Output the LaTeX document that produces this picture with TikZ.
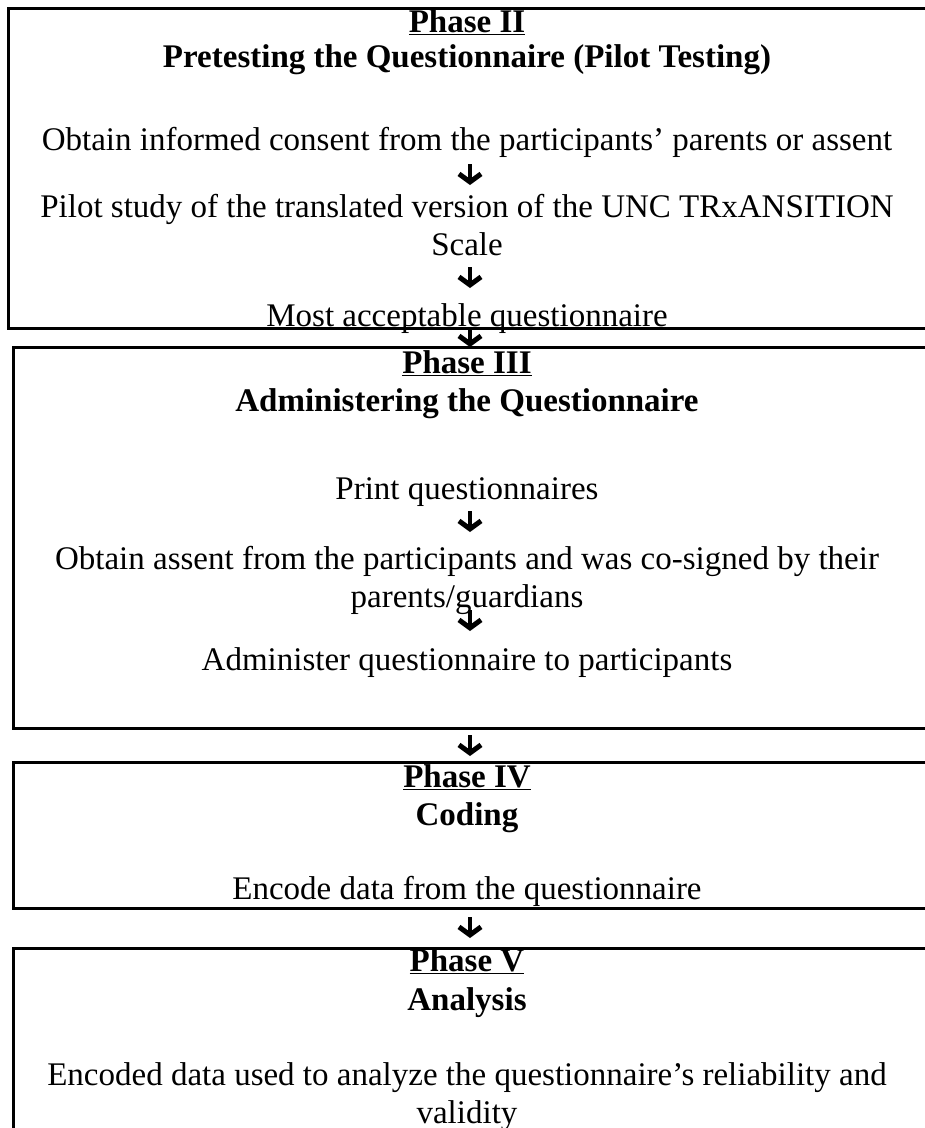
\documentclass[tikz,border=0pt]{standalone}
\usepackage{fontspec}
\setmainfont{Liberation Serif}
\usetikzlibrary{arrows.meta}
\tikzset{
  frame/.style={draw=black, line width=3pt, fill=none},
  txt/.style={anchor=base, inner sep=0pt, align=center, font=\fontsize{33}{38}\selectfont},
  head/.style={anchor=base, inner sep=0pt, align=center, font=\fontsize{33}{38}\selectfont\bfseries},
  bigarrow/.style={line width=4.5pt, -{Straight Barb[length=8pt,width=22pt,line width=5pt]}}
}
\begin{document}
\begin{tikzpicture}[x=1pt,y=-1pt]
\useasboundingbox (0,0) rectangle (925,1128);
\fill[white] (0,0) rectangle (925,1128);
\clip (0,0) rectangle (925,1128);
% boxes
\draw[frame] (8,8) rectangle (960,328);
\draw[frame] (13,347) rectangle (960,728);
\draw[frame] (13,762) rectangle (960,908);
\draw[frame] (13,948) rectangle (960,1160);
% Phase II
\node[head] (p2) at (467,32) {\underline{Phase II}};
\node[head] (p2t) at (467,67) {Pretesting the Questionnaire (Pilot Testing)};
\node[txt] (s21) at (467,150) {Obtain informed consent from the participants’ parents or assent};
\node[txt] (s22) at (467,255) {Pilot study of the translated version of the UNC TRxANSITION\\Scale};
\node[txt] (s23) at (467,326) {Most acceptable questionnaire};
% Phase III
\node[head] (p3) at (467,373) {\underline{Phase III}};
\node[head] (p3t) at (467,411) {Administering the Questionnaire};
\node[txt] (s31) at (467,499) {Print questionnaires};
\node[txt] (s32) at (467,607) {Obtain assent from the participants and was co-signed by their\\parents/guardians};
\node[txt] (s33) at (467,670) {Administer questionnaire to participants};
% Phase IV
\node[head] (p4) at (467,787) {\underline{Phase IV}};
\node[head] (p4t) at (467,825) {Coding};
\node[txt] (s41) at (467,899) {Encode data from the questionnaire};
% Phase V
\node[head] (p5) at (467,971) {\underline{Phase V}};
\node[head] (p5t) at (467,1010) {Analysis};
\node[txt] (s51) at (467,1123) {Encoded data used to analyze the questionnaire’s reliability and\\validity};
% arrows
\coordinate (a1s) at (470,164); \coordinate (a1e) at (470,185);
\coordinate (a2s) at (470,267); \coordinate (a2e) at (470,288);
\coordinate (a3s) at (470,329); \coordinate (a3e) at (470,347);
\coordinate (a4s) at (470,511); \coordinate (a4e) at (470,532);
\coordinate (a5s) at (470,610); \coordinate (a5e) at (470,631);
\coordinate (a6s) at (470,735); \coordinate (a6e) at (470,756);
\coordinate (a7s) at (470,917); \coordinate (a7e) at (470,938);
\foreach \i in {1,...,7} \draw[bigarrow] (a\i s) -- (a\i e);
\end{tikzpicture}
\end{document}
